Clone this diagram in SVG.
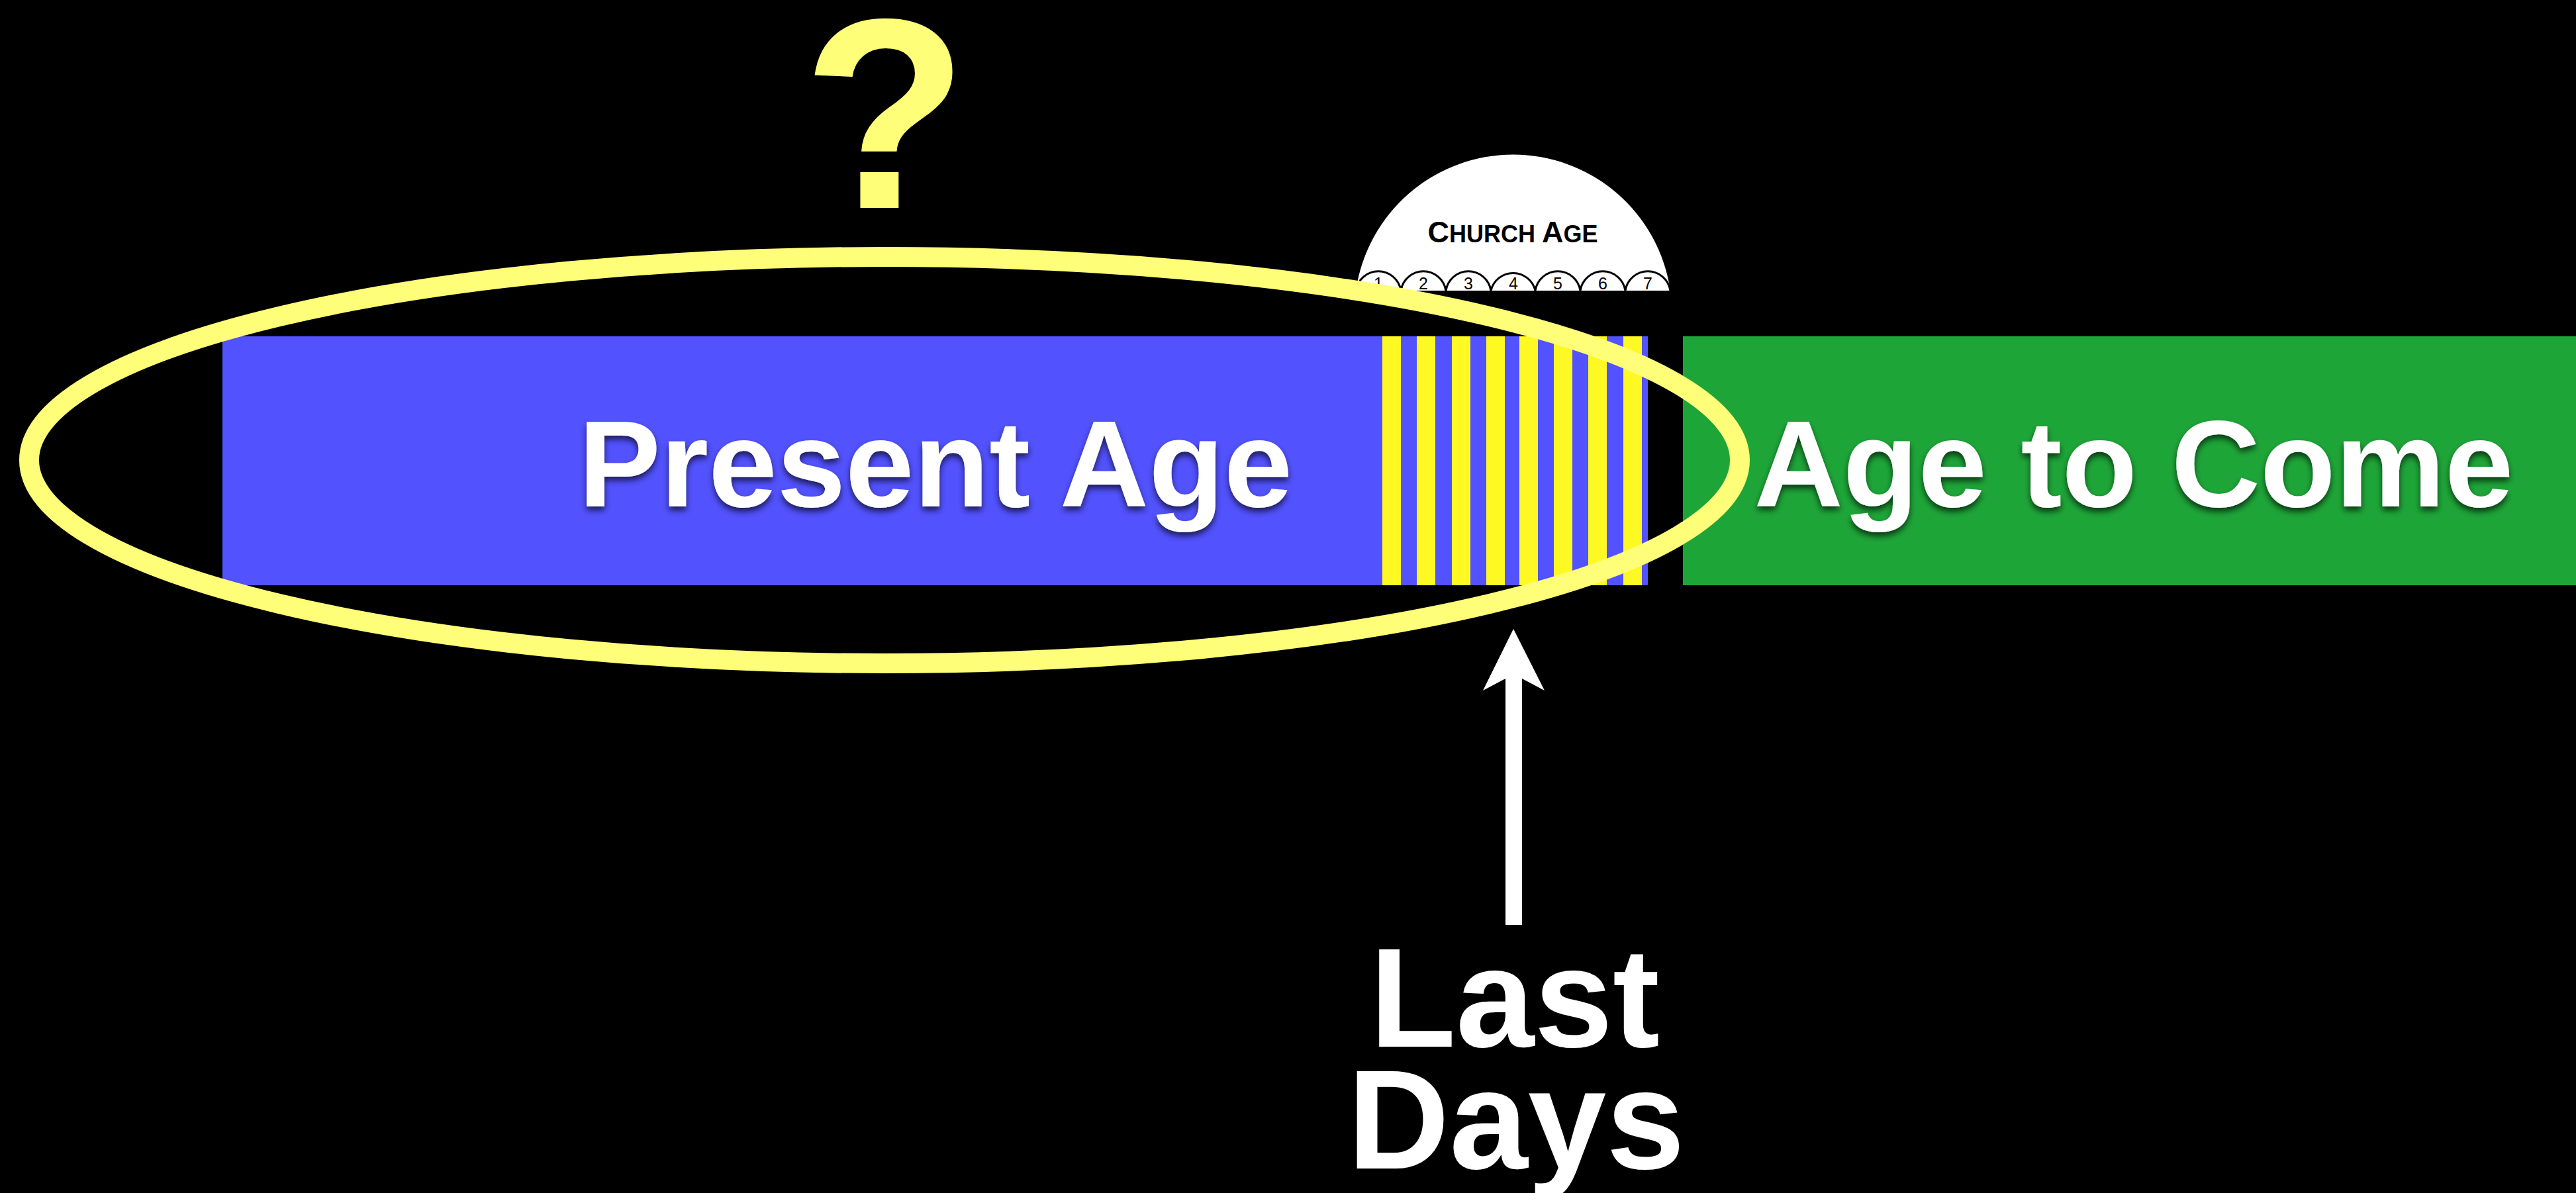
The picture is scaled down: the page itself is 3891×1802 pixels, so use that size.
<svg xmlns="http://www.w3.org/2000/svg" width="3891" height="1802" viewBox="0 0 3891 1802">
  <defs>
    <style>
      .big { font-family: "Liberation Sans", Arial, Helvetica, sans-serif; font-weight: bold; fill: #FFFFFF; }
      .stripe { fill: #FFF923; }
      .scallop { fill: none; stroke: #000000; stroke-width: 3; }
      .num { font-family: "Liberation Sans", Arial, sans-serif; font-size: 25px; fill: #000000; text-anchor: middle; }
      .ca { font-family: "Liberation Sans", Arial, sans-serif; font-weight: bold; fill: #000000; }
    </style>
    <filter id="shadow" x="-10%" y="-20%" width="120%" height="150%">
      <feDropShadow dx="0" dy="6" stdDeviation="5" flood-color="#000000" flood-opacity="0.65"/>
    </filter>
  </defs>
  <rect x="0" y="0" width="3891" height="1802" fill="#000000"/>

  <g id="church-age">
    <path d="M2048,439 A240,240 0 0 1 2523,439 Z" fill="#FFFFFF"/>
    <path class="scallop" d="M2048,439 A34.4,34.4 0 0 1 2116,439 A34.4,34.4 0 0 1 2184,439 A34.4,34.4 0 0 1 2252,439 A34.4,34.4 0 0 1 2319,439 A34.4,34.4 0 0 1 2387,439 A34.4,34.4 0 0 1 2455,439 A34.4,34.4 0 0 1 2523,439"/>
    <text class="ca" x="2285" y="366" text-anchor="middle"><tspan font-size="45">C</tspan><tspan font-size="36">HURCH </tspan><tspan font-size="45">A</tspan><tspan font-size="36">GE</tspan></text>
    <text class="num" x="2082" y="437">1</text>
    <text class="num" x="2150" y="437">2</text>
    <text class="num" x="2218" y="437">3</text>
    <text class="num" x="2286" y="437">4</text>
    <text class="num" x="2353" y="437">5</text>
    <text class="num" x="2421" y="437">6</text>
    <text class="num" x="2489" y="437">7</text>
  </g>

  <g id="present-age">
    <rect x="336" y="508" width="2153" height="376" fill="#5252FF"/>
    <g id="last-days-stripes">
      <rect class="stripe" x="2088" y="508" width="28" height="376"/>
      <rect class="stripe" x="2140" y="508" width="28" height="376"/>
      <rect class="stripe" x="2193" y="508" width="28" height="376"/>
      <rect class="stripe" x="2245" y="508" width="28" height="376"/>
      <rect class="stripe" x="2295" y="508" width="28" height="376"/>
      <rect class="stripe" x="2347" y="508" width="28" height="376"/>
      <rect class="stripe" x="2399" y="508" width="28" height="376"/>
      <rect class="stripe" x="2452" y="508" width="28" height="376"/>
    </g>
    <text class="big" x="1413" y="765" font-size="186" text-anchor="middle" filter="url(#shadow)">Present Age</text>
  </g>

  <g id="age-to-come">
    <rect x="2542" y="508" width="1349" height="376" fill="#1EA538"/>
    <text class="big" x="3223" y="765" font-size="186" text-anchor="middle" filter="url(#shadow)">Age to Come</text>
  </g>

  <g id="question">
    <ellipse cx="1336" cy="695" rx="1292" ry="307" fill="none" stroke="#FFFE78" stroke-width="30"/>
    <text x="1337" y="314" font-family="Liberation Sans, Arial, sans-serif" font-weight="bold" font-size="410" fill="#FFFE78" text-anchor="middle">?</text>
  </g>

  <g id="connectors">
    <polygon points="2286,950 2333,1043 2299,1025 2299,1397 2274,1397 2274,1025 2240,1043" fill="#FFFFFF"/>
  </g>

  <g id="last-days">
    <text class="big" x="2288" y="1581" font-size="213" text-anchor="middle">Last</text>
    <text class="big" x="2290" y="1765" font-size="213" text-anchor="middle">Days</text>
  </g>
</svg>
